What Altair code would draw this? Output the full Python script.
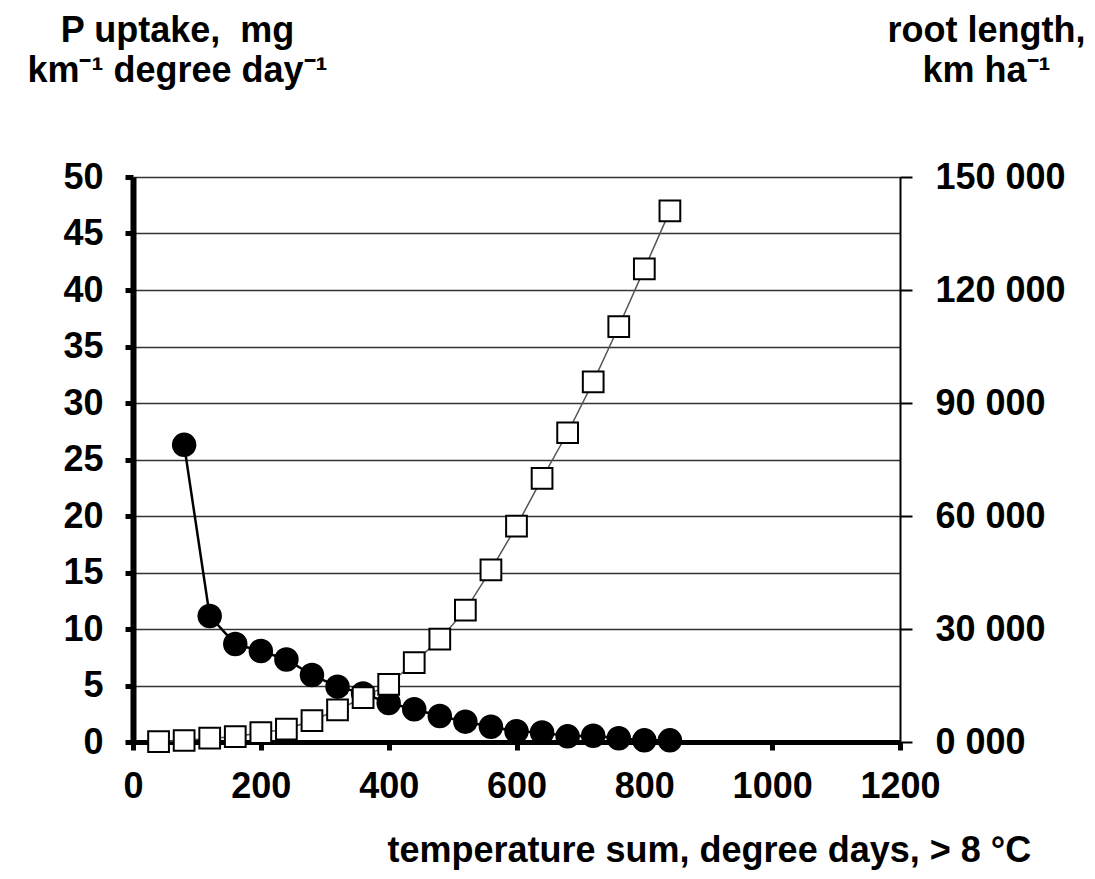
import altair as alt
import pandas as pd

# ---- data ----
temp_p = [80, 120, 160, 200, 240, 280, 320, 360, 400, 440, 480, 520, 560, 600,
          640, 680, 720, 760, 800, 840]
p_uptake = [26.3, 11.15, 8.67, 8.05, 7.3, 5.93, 4.9, 4.3, 3.45, 2.9, 2.3, 1.8,
            1.35, 0.95, 0.85, 0.5, 0.55, 0.33, 0.15, 0.15]

temp_r = [40, 80, 120, 160, 200, 240, 280, 320, 360, 400, 440, 480, 520, 560,
          600, 640, 680, 720, 760, 800, 840]
root_length = [100, 400, 1000, 1400, 2500, 3400, 5700, 8500, 11800, 15300, 21100,
               27300, 35000, 45700, 57300, 70000, 82100, 95600, 110300, 125600,
               141000]

x_ticks = [0, 200, 400, 600, 800, 1000, 1200]
left_ticks = [0, 5, 10, 15, 20, 25, 30, 35, 40, 45, 50]
right_ticks = [0, 30000, 60000, 90000, 120000, 150000]

x_title = "temperature sum, degree days, > 8 °C"
left_title = ["P uptake,\u00a0 mg", "km⁻¹ degree day⁻¹"]
right_title = ["root length,", "km ha⁻¹"]

df_p = pd.DataFrame({"temp": temp_p, "p": p_uptake})
df_r = pd.DataFrame({"temp": temp_r, "root": root_length})

FONT = "Liberation Sans"
FS = 36

x_scale = alt.Scale(domain=[0, 1200], nice=False, zero=False)
x_axis = alt.Axis(
    values=x_ticks, grid=False, format="d",
    domainColor="black", domainWidth=5,
    tickColor="black", tickWidth=5, tickSize=8,
    labelFont=FONT, labelFontSize=FS, labelFontWeight="bold", labelColor="black",
    labelBaseline="alphabetic", labelPadding=47, labelFlush=False, labelOverlap=False,
    title=x_title, titleFont=FONT, titleFontSize=FS, titleFontWeight="bold",
    titleColor="black", titleAlign="left", titleBaseline="alphabetic",
    titleX=254, titleY=119,
)

left_axis = alt.Axis(
    values=left_ticks, grid=True, gridColor="#333333", gridWidth=1.5,
    domainColor="black", domainWidth=6,
    tickColor="black", tickWidth=5, tickSize=8,
    labelFont=FONT, labelFontSize=FS, labelFontWeight="bold", labelColor="black",
    labelPadding=22, labelFlush=False, labelOverlap=False,
    title=left_title, titleFont=FONT, titleFontSize=FS, titleFontWeight="bold",
    titleColor="black", titleAngle=0, titleAlign="center", titleBaseline="alphabetic",
    titleX=44, titleY=-136, titleLineHeight=40,
)

right_axis = alt.Axis(
    orient="right", values=right_ticks, grid=False,
    domainColor="black", domainWidth=2,
    tickColor="black", tickWidth=2, tickSize=12,
    labelFont=FONT, labelFontSize=FS, labelFontWeight="bold", labelColor="black",
    labelPadding=23, labelFlush=False, labelOverlap=False,
    labelExpr="floor(datum.value / 1000) + ' 000'",
    title=right_title, titleFont=FONT, titleFontSize=FS, titleFontWeight="bold",
    titleColor="black", titleAngle=0, titleAlign="center", titleBaseline="alphabetic",
    titleX=86, titleY=-136, titleLineHeight=40,
)

base_p = alt.Chart(df_p).encode(
    x=alt.X("temp:Q", scale=x_scale, axis=x_axis),
    y=alt.Y("p:Q", scale=alt.Scale(domain=[0, 50], nice=False), axis=left_axis),
)
p_line = base_p.mark_line(color="black", strokeWidth=2.5)
p_pts = base_p.mark_point(shape="circle", filled=True, size=600, color="black", opacity=1)

base_r = alt.Chart(df_r).encode(
    x=alt.X("temp:Q", scale=x_scale, axis=x_axis),
    y=alt.Y("root:Q", scale=alt.Scale(domain=[0, 150000], nice=False), axis=right_axis),
)
r_line = base_r.mark_line(color="#555555", strokeWidth=1.5)
r_pts = base_r.mark_point(shape="square", filled=True, fill="white", stroke="black",
                          strokeWidth=2, size=430, opacity=1)

chart = alt.layer(
    alt.layer(p_line, p_pts),
    alt.layer(r_line, r_pts),
).resolve_scale(y="independent").properties(
    width=767, height=565,
    autosize=alt.AutoSizeParams(type="none"),
    padding={"left": 125, "top": 169, "right": 186, "bottom": 129},
    background="white",
).configure_view(stroke=None)

chart.save("out.html", embed_options={"renderer": "svg", "actions": False})
